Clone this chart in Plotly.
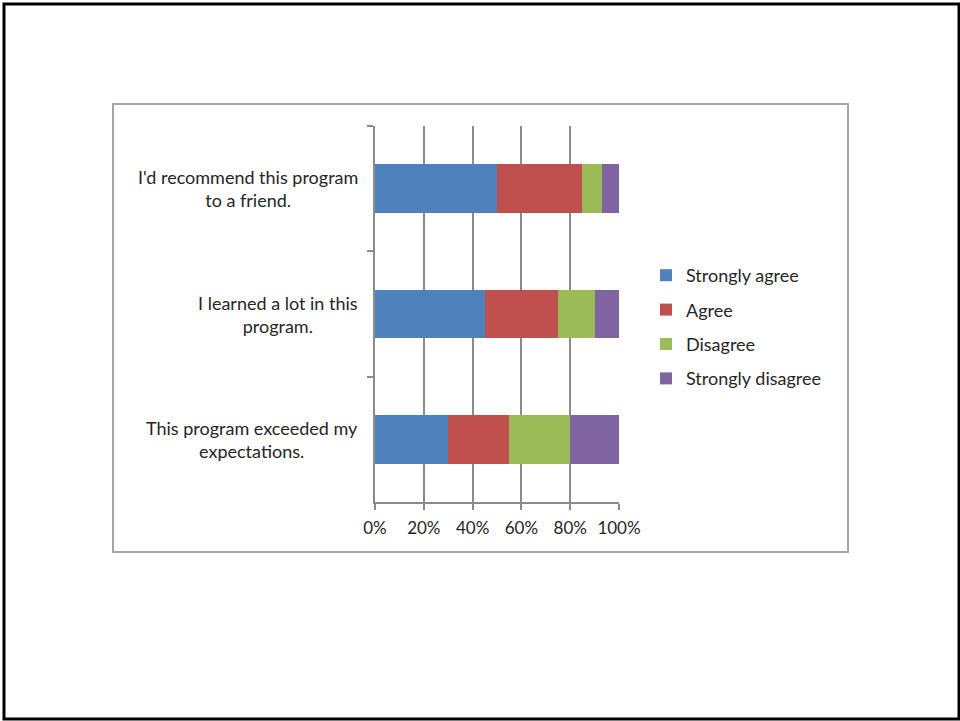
import plotly.graph_objects as go

categories = [
    "I'd recommend this program<br>to a friend.",
    "I learned a lot in this<br>program.",
    "This program exceeded my<br>expectations.",
]
series_names = ["Strongly agree", "Agree", "Disagree", "Strongly disagree"]
strongly_agree = [0.50, 0.45, 0.30]
agree = [0.35, 0.30, 0.25]
disagree = [0.08, 0.15, 0.25]
strongly_disagree = [0.07, 0.10, 0.20]
series_values = [strongly_agree, agree, disagree, strongly_disagree]
colors = ["#4F81BD", "#C0504D", "#9BBB59", "#8064A2"]
x_ticks = [0, 0.2, 0.4, 0.6, 0.8, 1.0]

W, H = 960, 721
L, R, T, B = 375, 619, 126, 502  # plot area in pixels


def px(x):
    return (x - L) / (R - L)


def py(y):
    return (B - y) / (B - T)


FONT = "Lato, 'Open Sans', sans-serif"
TXT = "#262626"
GRID = "#8c8c8c"

fig = go.Figure()
for name, vals, col in zip(series_names, series_values, colors):
    fig.add_trace(go.Bar(
        y=categories, x=vals, name=name, orientation="h",
        marker=dict(color=col, line=dict(width=0)),
        legendgroup=name, hoverinfo="skip",
    ))

for cat in categories:
    fig.add_annotation(
        x=0, xref="paper", y=cat, yref="y", text=cat, showarrow=False,
        xanchor="right", yanchor="middle", align="center", xshift=-15,
        font=dict(family=FONT, size=18, color=TXT),
    )

shapes = [
    # outer frame
    dict(type="rect", xref="paper", yref="paper",
         x0=px(4), x1=px(959), y0=py(719), y1=py(4),
         line=dict(color="black", width=3), layer="below"),
    # chart box
    dict(type="rect", xref="paper", yref="paper",
         x0=px(113), x1=px(848), y0=py(552), y1=py(104),
         line=dict(color="#a6a6a6", width=2), layer="below"),
]

fig.update_layout(
    width=W, height=H,
    margin=dict(l=L, r=W - R, t=T, b=H - B, pad=0),
    barmode="stack", bargap=0.61,
    paper_bgcolor="white", plot_bgcolor="white",
    font=dict(family=FONT, size=17, color=TXT),
    showlegend=True,
    legend=dict(
        x=px(646), y=py(257), xanchor="left", yanchor="top",
        traceorder="grouped", tracegroupgap=8,
        font=dict(family=FONT, size=18, color=TXT),
        itemwidth=30, bgcolor="rgba(0,0,0,0)",
    ),
    xaxis=dict(
        range=[0, 1], tickvals=x_ticks, tickformat=".0%",
        showgrid=True, gridcolor=GRID, gridwidth=1.5,
        showline=True, linecolor=GRID, linewidth=1.5,
        ticks="outside", ticklen=6, tickcolor=GRID, tickwidth=1.5,
        ticklabelstandoff=4,
        zeroline=False, fixedrange=True,
        tickfont=dict(family=FONT, size=17, color=TXT),
    ),
    yaxis=dict(
        autorange="reversed", showticklabels=False,
        tickson="boundaries", ticks="outside", ticklen=6,
        tickcolor=GRID, tickwidth=1.5,
        showgrid=False, showline=True, linecolor=GRID, linewidth=1.5,
        zeroline=False, fixedrange=True,
    ),
    shapes=shapes,
)

fig.write_html("out.html", config={"displayModeBar": False})
